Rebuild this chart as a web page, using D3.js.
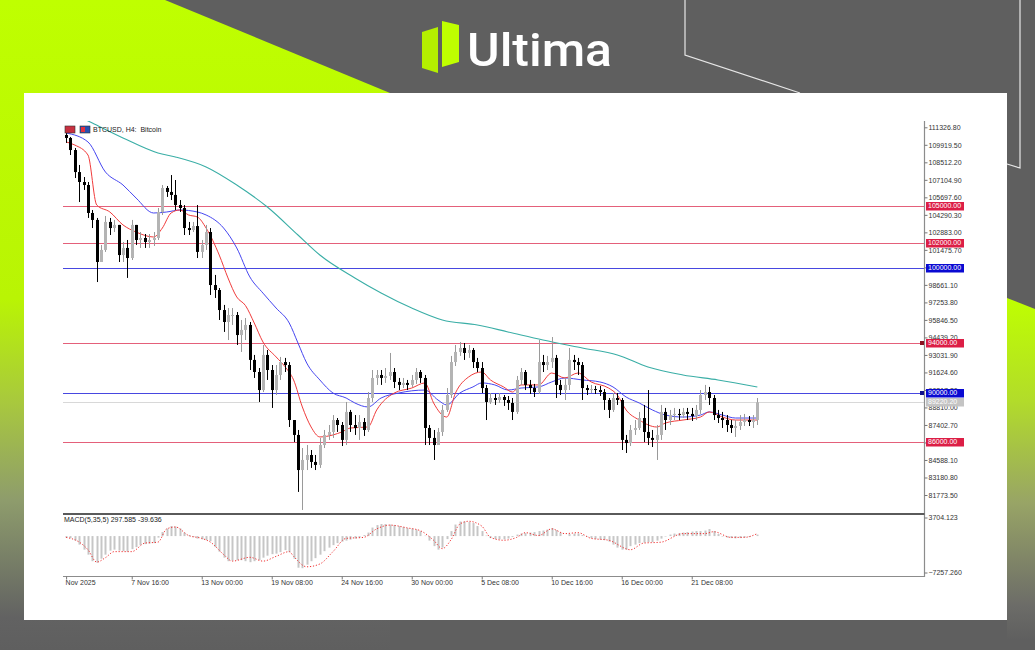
<!DOCTYPE html>
<html><head><meta charset="utf-8">
<script src="https://cdn.jsdelivr.net/npm/d3@7"></script>
<style>html,body{margin:0;padding:0;background:#5f5f5f;overflow:hidden}svg{display:block}</style>
</head><body>
<svg id="c" width="1035" height="650"></svg>
<script>
// ---------- DATA ----------
const firstOpen = 110710;
const closes = [110470,109500,107730,106930,106690,104440,103880,100500,101470,103720,
103230,103480,101060,101630,100820,103480,102270,102430,102110,102270,
102430,104520,106450,106130,105890,105080,104840,103230,103070,103390,
101310,101870,102910,98650,98250,96640,95680,96240,96240,94630,
95040,95440,92630,91660,90210,93030,91820,90210,91420,92460,
92220,87800,86600,83780,84590,84990,84430,84190,85790,86600,
86840,87800,87400,86200,88450,87400,87160,87640,87000,89570,
91180,91420,91180,91340,91660,90860,90620,90780,90620,91020,
91660,91180,87160,86360,85790,86840,88610,89810,92460,93270,
93590,93190,93430,92460,91980,90370,89250,89570,89410,89650,
89410,89170,88450,91020,91660,90620,90370,90050,92460,92220,
92460,92790,90620,90210,90620,92630,92460,92220,90370,90210,
90290,90210,90050,89410,88610,89570,89410,86200,85950,87000,
87160,87960,86840,86360,86200,86600,88450,87800,88200,88290,
88200,88450,88290,88120,88610,89810,90050,89570,88200,87960,
87800,87400,87160,87320,87640,87800,87640,87800,89220];
const highs = [110950,110550,109660,108300,107330,106930,104680,104040,101870,104200,
104040,103880,103480,102110,102270,103880,103480,102910,102750,102750,
102910,104840,106690,106610,107490,107090,105480,105080,103720,103720,
105080,102270,103480,103230,99460,98410,97050,96800,96800,96480,
95840,96000,95680,93030,91980,93830,93430,92220,92220,92870,
92790,92460,87800,87000,85550,85790,85390,84990,86360,87000,
87400,88200,87960,87640,89250,88610,88200,88200,87960,90050,
91820,91820,91820,91980,93190,91980,91180,91180,91020,91420,
91980,91820,91420,87400,87000,87160,89010,90370,92950,93830,
94070,93990,93830,93590,92790,92460,90620,89970,89890,89970,
89810,89730,89570,91340,91980,91820,91020,90700,94230,93030,
92950,94470,93030,91020,91180,93590,93030,92790,92460,90620,
90620,90540,90540,90290,89570,89970,89970,89570,86600,87400,
87800,88450,89010,90210,87000,87400,89010,88770,88610,88770,
88690,88770,88770,88770,89010,90210,90620,90460,89810,88610,
88450,88200,87800,87800,88200,88290,88120,88200,89570];
const lows = [110070,109100,107250,105320,106290,104040,103230,98890,100500,101310,
102670,102910,100500,100500,99220,100660,101870,101630,101630,101630,
101790,102270,104280,105730,105480,104680,104520,102670,102670,102910,
100820,100820,101470,97850,97610,95840,94880,94230,95440,93830,
93270,94230,91820,91180,89250,90050,91020,88770,89810,91020,
91660,87240,86030,82020,80570,83780,83950,83780,83950,85550,
86200,86360,86840,85710,85790,86840,86600,86200,86520,86840,
89250,90620,90620,90780,91020,90370,90210,90370,90210,90460,
90700,90780,85790,85790,84590,85790,86520,88450,89570,92140,
92950,92630,92790,91980,91660,89970,87800,89090,89010,89170,
88930,88610,87800,88290,90620,90210,89890,89650,89890,91660,
91820,91980,89570,89810,89410,90210,91820,91420,89410,89810,
89970,89890,89730,88610,87960,88450,89010,85390,85150,85710,
86600,87000,86030,85790,85630,84590,86200,87000,87400,87800,
87800,87960,87800,87720,87800,88290,89410,89010,87800,87560,
87160,86840,86760,86440,87000,87320,87320,87160,87400];

// moving averages: [bar, value]
const maFast = [[0,110150],[2,109900],[5,109100],[7,105080],[10,104520],[13,103480],[16,102910],[20,102510],[22,103230],[24,104440],[26,104680],[28,104280],[30,104120],[32,103230],[35,101060],[37,99220],[39,97690],[41,97000],[43,95600],[45,94070],[48,92870],[50,92100],[52,91020],[54,88850],[56,87240],[58,86440],[61,86600],[63,86840],[65,87160],[69,87240],[71,88610],[75,89970],[79,90370],[82,90780],[84,89170],[87,88040],[89,89970],[92,91260],[95,91660],[97,91020],[100,90460],[102,90050],[104,90620],[108,90620],[111,91580],[114,91180],[117,91580],[120,90860],[124,90370],[126,89810],[128,88610],[131,87800],[135,87240],[137,87560],[141,87800],[145,88040],[147,88450],[150,88040],[153,87800],[158,87800]];
const maMid = [[0,110870],[5,110150],[9,107730],[13,106690],[16,105640],[20,104440],[23,104520],[26,104680],[30,104520],[32,104280],[36,103230],[39,101630],[42,99300],[45,98000],[48,96800],[51,95600],[53,93990],[55,92380],[58,91020],[61,89970],[64,89570],[66,89170],[69,88850],[72,89570],[76,89970],[82,90210],[85,89410],[87,89010],[90,89970],[93,90460],[95,90780],[98,90620],[101,90210],[104,90370],[108,90460],[111,90860],[114,91180],[118,91020],[122,90860],[125,90460],[128,89650],[131,89170],[134,88610],[137,88200],[141,88040],[145,88200],[147,88450],[150,88200],[153,87960],[158,87960]];
const maSlow = [[0,112700],[6,111670],[13,110470],[21,109260],[25,108940],[32,108140],[39,106690],[46,104920],[53,102670],[58,101060],[66,99220],[72,98010],[79,96800],[86,95840],[94,95440],[101,94880],[109,94230],[118,93590],[126,93030],[133,92060],[141,91420],[149,91020],[158,90460]];

// MACD(5,35,5)
const macdMain = [-300,-400,-900,-1700,-2700,-3700,-5000,-5300,-4500,-3700,
-2900,-2700,-2900,-3000,-3100,-2600,-2200,-1800,-1600,-1500,
-1400,-300,800,1500,2000,1900,1500,700,200,-200,
-500,-650,-800,-1000,-2200,-3100,-4300,-5000,-4900,-4800,
-4800,-5000,-5200,-5000,-4800,-4300,-3900,-3600,-3500,-3200,
-2800,-3200,-4500,-6300,-6400,-5700,-5000,-4400,-3700,-3000,
-2300,-1800,-1400,-1100,-900,-700,-500,-300,200,700,
1700,2200,2400,2400,2300,2200,2000,1800,1600,1500,
1300,1000,100,-900,-2000,-2700,-2300,-600,1000,2300,
2900,2900,2800,2600,2000,1000,100,-400,-600,-650,
-650,-500,-200,300,500,600,700,800,1000,1100,
1300,1600,1200,700,0,400,500,500,200,-100,
-400,-600,-700,-800,-1100,-1700,-2300,-2700,-2700,-2000,
-1700,-1400,-1300,-1200,-1200,-900,-500,-100,300,500,
600,700,800,900,1000,1000,1100,1400,1000,400,
-100,-300,-400,-450,-400,-300,-200,0,300];
const macdSignal = [[0,-260],[3,-1200],[5,-2720],[7,-5180],[9,-4300],[11,-3100],[15,-3100],[18,-1400],[21,-1210],[23,1440],[25,1810],[28,110],[31,-450],[33,-1210],[36,-3670],[38,-4990],[42,-4230],[45,-4990],[48,-4040],[51,-3100],[52,-4040],[55,-6120],[58,-5560],[61,-3100],[64,-450],[68,-260],[71,1440],[74,2190],[78,1630],[81,1060],[84,-830],[86,-2500],[88,-700],[90,2400],[92,2950],[95,2000],[97,-260],[100,-830],[103,-260],[105,680],[108,110],[111,1440],[114,490],[117,680],[120,-450],[124,-830],[129,-2720],[132,-1400],[136,-1210],[141,490],[146,490],[148,870],[152,-260],[155,-260],[158,490]];

const priceTicks = [111326.80,109919.50,108512.20,107104.90,105697.60,104290.30,102883.00,101475.70,100068.40,98661.10,97253.80,95846.50,94439.20,93031.90,91624.60,90217.30,88810.00,87402.70,85995.40,84588.10,83180.80,81773.50];
const macdTicks = [3704.123,-7257.260];
const redLevels = [105000,102000,94000,86000];
const blueLevels = [100000,90000];
const lastPrice = 89220.20;
const timeTickBars = [0,15,31,47,63,79,95,111,127,143];
const timeTickLabels = ["Nov 2025","7 Nov 16:00","13 Nov 00:00","19 Nov 08:00","24 Nov 16:00","30 Nov 00:00","5 Dec 08:00","10 Dec 16:00","16 Dec 00:00","21 Dec 08:00"];
const titleText = "BTCUSD, H4:  Bitcoin";
const macdLabel = "MACD(5,35,5) 297.585 -39.636";

// ---------- DRAW ----------
const svg = d3.select('#c');
const FONT = '"Liberation Sans", Arial, sans-serif';
const defs = svg.append('defs');
function grad(id, y1, y2, stops){
  const g = defs.append('linearGradient').attr('id',id).attr('gradientUnits','userSpaceOnUse')
    .attr('x1',0).attr('x2',0).attr('y1',y1).attr('y2',y2);
  stops.forEach(s=>g.append('stop').attr('offset',s[0]).attr('stop-color',s[1]));
}
grad('gL',0,650,[[0,'#bfff00'],[0.46,'#b9f404'],[0.62,'#a8c83e'],[0.77,'#8e9c6c'],[0.95,'#626262'],[1,'#5f5f5f']]);
grad('gR',298,640,[[0,'#bfff00'],[0.3,'#b2dc2a'],[0.6,'#98a466'],[0.9,'#6c6c68'],[1,'#5f5f5f']]);

svg.append('rect').attr('width',1035).attr('height',650).attr('fill','#5f5f5f');
svg.append('polygon').attr('points','0,0 165,0 390,93 390,650 0,650').attr('fill','url(#gL)');
svg.append('polygon').attr('points','1007,298 1035,309 1035,650 1007,650').attr('fill','url(#gR)');
svg.append('polyline').attr('points','685,0 685,55 800,93').attr('fill','none').attr('stroke','#e6e6e6').attr('stroke-width',1.2);
svg.append('polyline').attr('points','1007,164 1020,168 1020,0').attr('fill','none').attr('stroke','#e6e6e6').attr('stroke-width',1.2);

// logo
svg.append('polygon').attr('points','422,32 438,27 438,73 422,68').attr('fill','#b4ef00');
svg.append('polygon').attr('points','442,21 459,25 459,62 442,67').attr('fill','#bfff00');
svg.append('text').attr('x',467).attr('y',66).attr('font-family','Roboto, "Open Sans", sans-serif')
  .attr('font-weight',500).attr('font-size',47).attr('fill','#ffffff')
  .attr('textLength',145).attr('lengthAdjust','spacingAndGlyphs').text('Ultima');

// white panel
svg.append('rect').attr('x',24).attr('y',93).attr('width',983).attr('height',527).attr('fill','#ffffff');

const x = d3.scaleLinear().domain([0,158]).range([66.1,757.35]);
const y = d3.scaleLinear().domain([81773.5,111326.8]).range([495.0,127.3]);
const ym = d3.scaleLinear().domain([-7257.26,3704.123]).range([572.5,517.5]);
const L = 63, R = 924.5;

defs.append('clipPath').attr('id','cm').append('rect').attr('x',L).attr('y',121).attr('width',R-L).attr('height',392);
const gm = svg.append('g').attr('clip-path','url(#cm)');

// level lines
const py = v => Math.round(y(v))+0.5;
gm.append('line').attr('x1',L).attr('x2',R).attr('y1',py(lastPrice)).attr('y2',py(lastPrice)).attr('stroke','#d8d8d8');
gm.selectAll('.rl').data(redLevels).join('line').attr('x1',L).attr('x2',R)
  .attr('y1',py).attr('y2',py).attr('stroke','#e4607a').attr('stroke-width',1);
gm.selectAll('.bl').data(blueLevels).join('line').attr('x1',L).attr('x2',R)
  .attr('y1',py).attr('y2',py).attr('stroke','#4848e0').attr('stroke-width',1);

// moving averages
const ln = d3.line().x(d=>x(d[0])).y(d=>y(d[1])).curve(d3.curveMonotoneX);
gm.append('path').attr('d',ln(maSlow)).attr('fill','none').attr('stroke','#3aaea6').attr('stroke-width',1.1);
gm.append('path').attr('d',ln(maMid)).attr('fill','none').attr('stroke','#4646f0').attr('stroke-width',1);
gm.append('path').attr('d',ln(maFast)).attr('fill','none').attr('stroke','#f03c3c').attr('stroke-width',1);

// candles
const bars = closes.map((c,i)=>{
  const o = i===0 ? firstOpen : closes[i-1];
  return {i, o, c, h: Math.max(highs[i],o,c), l: Math.min(lows[i],o,c)};
});
const cg = gm.append('g');
bars.forEach(b=>{
  const bull = b.c >= b.o;
  const xc = Math.round(x(b.i));
  const col = bull ? '#9a9a9a' : '#000000';
  cg.append('line').attr('x1',xc+0.5).attr('x2',xc+0.5).attr('y1',y(b.h)).attr('y2',y(b.l)).attr('stroke',col).attr('stroke-width',1);
  const top = y(Math.max(b.o,b.c)), bot = y(Math.min(b.o,b.c));
  cg.append('rect').attr('x',xc-1).attr('width',3).attr('y',top).attr('height',Math.max(1,bot-top))
    .attr('fill', bull ? '#b4b4b4' : '#000000');
});

// right axis
svg.append('line').attr('x1',R).attr('x2',R).attr('y1',121).attr('y2',577).attr('stroke','#8c8c8c').attr('stroke-width',1.2);
const ax = svg.append('g').attr('transform',`translate(${R},0)`)
  .call(d3.axisRight(y).tickValues(priceTicks).tickSize(3).tickSizeOuter(0).tickFormat(d3.format('.2f')));
ax.select('.domain').remove();
ax.selectAll('line').attr('stroke','#777');
ax.selectAll('text').attr('x',4).attr('font-family',FONT).attr('font-size',7).attr('fill','#333');

// level label boxes
function box(v, fill, txt){
  const yy = Math.round(y(v));
  svg.append('rect').attr('x',926).attr('y',yy-4).attr('width',38).attr('height',8.5).attr('fill',fill);
  svg.append('text').attr('x',928).attr('y',yy).attr('dy','0.35em').attr('font-family',FONT).attr('font-size',7)
    .attr('fill','#fff').text(txt);
}
box(lastPrice,'#c4c4c4',d3.format('.2f')(lastPrice));
redLevels.forEach(v=>box(v,'#dc1e46',d3.format('.2f')(v)));
blueLevels.forEach(v=>box(v,'#0a0ad2',d3.format('.2f')(v)));
svg.append('rect').attr('x',920).attr('y',Math.round(y(94000))-2).attr('width',4).attr('height',4).attr('fill','#8b1020');
svg.append('rect').attr('x',920).attr('y',Math.round(y(90000))-2).attr('width',4).attr('height',4).attr('fill','#10108b');

// title
svg.append('rect').attr('x',65).attr('y',126).attr('width',10).attr('height',7).attr('fill','#c83040').attr('stroke','#333').attr('stroke-width',0.6);
svg.append('rect').attr('x',80).attr('y',126).attr('width',10).attr('height',7).attr('fill','#2850b0').attr('stroke','#333').attr('stroke-width',0.6);
svg.append('rect').attr('x',81).attr('y',127).attr('width',4).attr('height',5).attr('fill','#e03040');
svg.append('text').attr('x',93).attr('y',129.5).attr('dy','0.35em').attr('font-family',FONT).attr('font-size',7)
  .attr('fill','#222').attr('xml:space','preserve').text(titleText);

// separator & MACD panel
svg.append('line').attr('x1',L).attr('x2',R).attr('y1',514).attr('y2',514).attr('stroke','#5a5a5a').attr('stroke-width',2);
svg.append('line').attr('x1',L).attr('x2',R).attr('y1',576.5).attr('y2',576.5).attr('stroke','#8c8c8c').attr('stroke-width',1);
const mg = svg.append('g');
mg.selectAll('line').data(macdMain).join('line')
  .attr('x1',(d,i)=>Math.round(x(i))+0.5).attr('x2',(d,i)=>Math.round(x(i))+0.5)
  .attr('y1',ym(0)).attr('y2',d=>ym(d)).attr('stroke','#c6c6c6').attr('stroke-width',2);
const lm = d3.line().x(d=>x(d[0])).y(d=>ym(d[1])).curve(d3.curveMonotoneX);
svg.append('path').attr('d',lm(macdSignal)).attr('fill','none').attr('stroke','#f03030').attr('stroke-width',1).attr('stroke-dasharray','1.2,1.8');
svg.append('text').attr('x',64).attr('y',520).attr('dy','0.35em').attr('font-family',FONT).attr('font-size',7).attr('fill','#222').text(macdLabel);
const am = svg.append('g').attr('transform',`translate(${R},0)`)
  .call(d3.axisRight(ym).tickValues(macdTicks).tickSize(3).tickSizeOuter(0).tickFormat(d3.format('.3f')));
am.select('.domain').remove();
am.selectAll('line').attr('stroke','#777');
am.selectAll('text').attr('x',4).attr('font-family',FONT).attr('font-size',7).attr('fill','#333');

// time axis
const at = svg.append('g').attr('transform','translate(0,576.5)')
  .call(d3.axisBottom(x).tickValues(timeTickBars).tickSize(3).tickSizeOuter(0).tickFormat((d,i)=>timeTickLabels[i]));
at.select('.domain').remove();
at.selectAll('line').attr('stroke','#777');
at.selectAll('text').attr('text-anchor','start').attr('x',-1).attr('y',6).attr('dy','0.35em')
  .attr('font-family',FONT).attr('font-size',7).attr('fill','#333');
</script>
</body></html>
